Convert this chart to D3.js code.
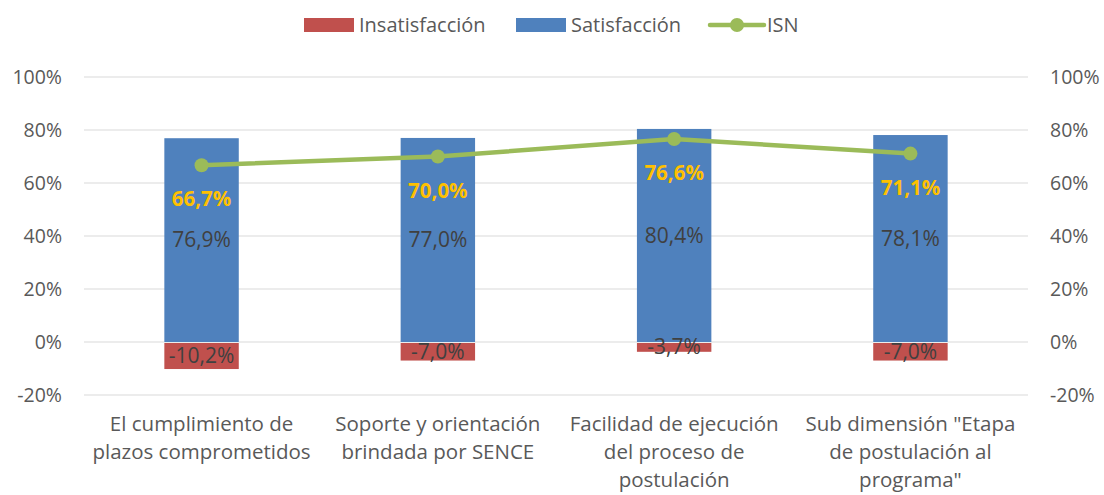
<!DOCTYPE html>
<html>
<head>
<meta charset="utf-8">
<script src="https://cdn.jsdelivr.net/npm/d3@7"></script>
<style>
  body { margin: 0; background: #fff; }
  svg text { font-family: "Open Sans", sans-serif; }
</style>
</head>
<body>
<svg class="chart"></svg>
<script>
// Data
var categories = [
  ["El cumplimiento de", "plazos comprometidos"],
  ["Soporte y orientación", "brindada por SENCE"],
  ["Facilidad de ejecución", "del proceso de", "postulación"],
  ["Sub dimensión \"Etapa", "de postulación al", "programa\""]
];
var satisfaccion = [76.9, 77.0, 80.4, 78.1];
var insatisfaccion = [-10.2, -7.0, -3.7, -7.0];
var isn = [66.7, 70.0, 76.6, 71.1];
var yTicks = [-20, 0, 20, 40, 60, 80, 100];

var w = 1104,
    h = 495;

var svg = d3.select(".chart")
    .attr("width", w)
    .attr("height", h);

var margin = { top: 77, right: 76, bottom: 100, left: 84 },
    width = w - margin.left - margin.right,
    height = h - margin.top - margin.bottom,
    g = svg.append("g").attr("transform", "translate(" + margin.left + "," + margin.top + ")");

var fmt = function(v) { return v.toFixed(1).replace(".", ",") + "%"; };

var idx = d3.range(categories.length);

var x = d3.scaleBand()
    .domain(idx)
    .range([0, width])
    .paddingInner(0.685)
    .paddingOuter(0.34);

var y = d3.scaleLinear()
    .domain([-20, 100])
    .range([height, 0]);

// gridlines
g.selectAll(".grid")
    .data(yTicks)
    .enter().append("line")
    .attr("x1", 0)
    .attr("x2", width)
    .attr("y1", function(d) { return y(d); })
    .attr("y2", function(d) { return y(d); })
    .attr("stroke", "#d9d9d9")
    .attr("stroke-width", 1);

// axes
var yAxisL = d3.axisLeft(y).tickValues(yTicks).tickFormat(function(d) { return d + "%"; }).tickSize(0).tickPadding(22);
var yAxisR = d3.axisRight(y).tickValues(yTicks).tickFormat(function(d) { return d + "%"; }).tickSize(0).tickPadding(22);

var gl = g.append("g").call(yAxisL);
var gr = g.append("g").attr("transform", "translate(" + width + ",0)").call(yAxisR);
[gl, gr].forEach(function(a) {
  a.select(".domain").remove();
  a.selectAll("text").attr("fill", "#595959").style("font-size", "19.5px");
});

// bars
g.selectAll(".sat")
    .data(satisfaccion)
    .enter().append("rect")
    .attr("x", function(d, i) { return x(i); })
    .attr("width", x.bandwidth())
    .attr("y", function(d) { return y(d); })
    .attr("height", function(d) { return y(0) - y(d); })
    .attr("fill", "#4f81bd");

g.selectAll(".insat")
    .data(insatisfaccion)
    .enter().append("rect")
    .attr("x", function(d, i) { return x(i); })
    .attr("width", x.bandwidth())
    .attr("y", y(0) + 1)
    .attr("height", function(d) { return y(d) - y(0) - 1; })
    .attr("fill", "#c0504d");

// line
var line = d3.line()
    .x(function(d, i) { return x(i) + x.bandwidth() / 2; })
    .y(function(d) { return y(d); });

g.append("path")
    .datum(isn)
    .attr("fill", "none")
    .attr("stroke", "#9bbb59")
    .attr("stroke-width", 4.5)
    .attr("stroke-linejoin", "round")
    .attr("d", line);

g.selectAll(".dot")
    .data(isn)
    .enter().append("circle")
    .attr("cx", function(d, i) { return x(i) + x.bandwidth() / 2; })
    .attr("cy", function(d) { return y(d); })
    .attr("r", 7)
    .attr("fill", "#9bbb59");

// labels
g.selectAll(".satlab")
    .data(satisfaccion)
    .enter().append("text")
    .attr("x", function(d, i) { return x(i) + x.bandwidth() / 2; })
    .attr("y", function(d) { return y(d / 2); })
    .attr("dy", "0.35em")
    .attr("text-anchor", "middle")
    .attr("fill", "#404040")
    .style("font-size", "21px")
    .text(fmt);

g.selectAll(".insatlab")
    .data(insatisfaccion)
    .enter().append("text")
    .attr("x", function(d, i) { return x(i) + x.bandwidth() / 2; })
    .attr("y", function(d) { return y(d / 2); })
    .attr("dy", "0.35em")
    .attr("text-anchor", "middle")
    .attr("fill", "#404040")
    .style("font-size", "21px")
    .text(fmt);

g.selectAll(".isnlab")
    .data(isn)
    .enter().append("text")
    .attr("x", function(d, i) { return x(i) + x.bandwidth() / 2; })
    .attr("y", function(d) { return y(d) + 34; })
    .attr("dy", "0.35em")
    .attr("text-anchor", "middle")
    .attr("fill", "#ffc000")
    .style("font-size", "20.5px")
    .style("font-weight", "bold")
    .text(fmt);

// category labels
var cat = g.selectAll(".cat")
    .data(categories)
    .enter().append("text")
    .attr("text-anchor", "middle")
    .attr("fill", "#595959")
    .style("font-size", "20.5px")
    .attr("transform", function(d, i) { return "translate(" + (x(i) + x.bandwidth() / 2) + "," + (height + 36) + ")"; });

cat.selectAll("tspan")
    .data(function(d) { return d; })
    .enter().append("tspan")
    .attr("x", 0)
    .attr("y", function(d, i) { return i * 28; })
    .text(function(d) { return d; });

// legend
var legend = svg.append("g").attr("transform", "translate(0,25)");
var items = [
  { name: "Insatisfacción", color: "#c0504d", type: "rect", x: 304 },
  { name: "Satisfacción", color: "#4f81bd", type: "rect", x: 516 },
  { name: "ISN", color: "#9bbb59", type: "line", x: 710 }
];
items.forEach(function(it) {
  if (it.type === "rect") {
    legend.append("rect")
        .attr("x", it.x).attr("y", -7)
        .attr("width", 50).attr("height", 14)
        .attr("fill", it.color);
  } else {
    legend.append("line")
        .attr("x1", it.x).attr("x2", it.x + 54)
        .attr("y1", 0).attr("y2", 0)
        .attr("stroke", it.color).attr("stroke-width", 4.5)
        .attr("stroke-linecap", "round");
    legend.append("circle")
        .attr("cx", it.x + 27).attr("cy", 0).attr("r", 7)
        .attr("fill", it.color);
  }
  legend.append("text")
      .attr("x", it.x + (it.type === "rect" ? 55 : 57))
      .attr("y", 0)
      .attr("dy", "0.35em")
      .attr("fill", "#595959")
      .style("font-size", "20px")
      .text(it.name);
});
</script>
</body>
</html>
